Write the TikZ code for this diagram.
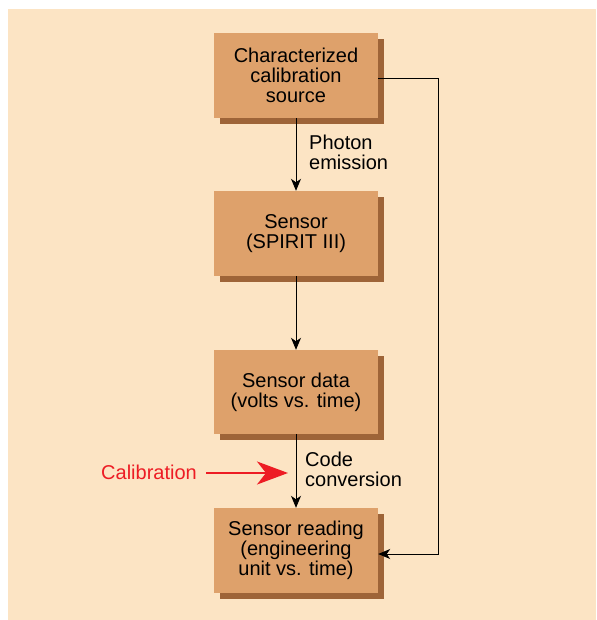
\documentclass[tikz,border=0pt]{standalone}
\usepackage{fontspec}
\setmainfont{Liberation Sans}
\usetikzlibrary{arrows.meta,shadows}
\definecolor{bgcol}{RGB}{252,228,196}
\definecolor{boxcol}{RGB}{222,161,107}
\definecolor{shadcol}{RGB}{158,100,56}
\definecolor{calred}{RGB}{237,28,36}
\begin{document}
\begin{tikzpicture}[x=1pt,y=-1pt,
  stagebox/.style={fill=boxcol, minimum width=164pt, inner sep=0pt, align=center,
    font=\fontsize{20}{20}\selectfont,
    drop shadow={shadow xshift=6pt, shadow yshift=-6pt, fill=shadcol, opacity=1}},
  lbl/.style={inner sep=0pt, align=left, font=\fontsize{20}{20}\selectfont},
  arr/.style={draw=black, line width=0.9pt, -{Stealth[length=12pt,width=10pt,inset=3.5pt]}},
  redarr/.style={draw=calred, line width=2.2pt, -{Stealth[length=31pt,width=23pt,inset=9pt]}}]
\useasboundingbox (0,0) rectangle (596,620);
\fill[bgcol] (8,9) rectangle (596,620);

\node[stagebox, minimum height=85pt] (b1) at (296,75.5) {\raisebox{-2pt}{\parbox{160pt}{\centering Characterized\\calibration\\source}}};
\node[stagebox, minimum height=85pt] (b2) at (296,233.5) {Sensor\\(SPIRIT III)};
\node[stagebox, minimum height=84pt] (b3) at (296,392) {Sensor data\\(volts vs. time)};
\node[stagebox, minimum height=85pt] (b4) at (296,550.5) {Sensor reading\\(engineering\\unit vs. time)};

\draw[arr] (b1.south) -- (b2.north);
\draw[arr] (b2.south) -- (b3.north);
\draw[arr] (b3.south) -- (b4.north);
\draw[arr] ([yshift=-2.5pt]b1.east) -- ++(60,0) |- ([yshift=-3.5pt]b4.east);

\node[lbl, anchor=west] (ph) at (309,152) {Photon\\emission};
\node[lbl, anchor=west] (cc) at (305,469) {Code\\conversion};

\node[lbl, anchor=base west, text=calred] (cal) at (101,479) {Calibration};
\coordinate (rs) at (206,473);
\coordinate (re) at (288,473);
\draw[redarr] (rs) -- (re);
\end{tikzpicture}
\end{document}
